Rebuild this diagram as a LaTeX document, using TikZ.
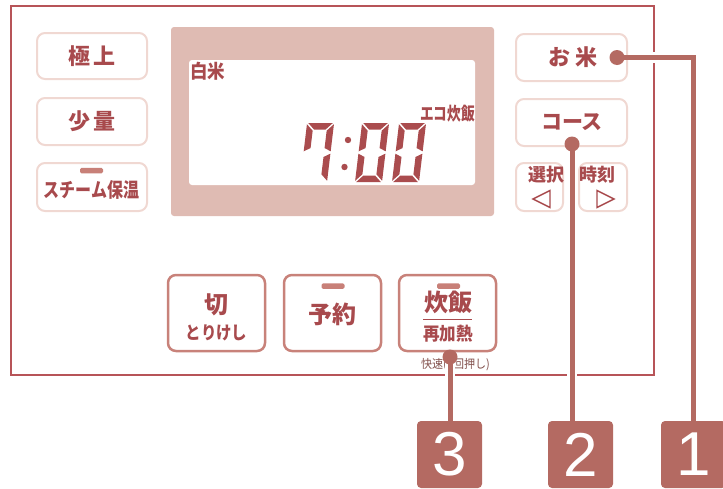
\documentclass[tikz,border=0pt]{standalone}
\usepackage{fontspec}
\usepackage{graphicx}
\setmainfont{Noto Sans CJK JP}
\newfontfamily\numfont{Liberation Sans}
\definecolor{panelc}{RGB}{183,84,88}
\definecolor{txtc}{RGB}{168,74,77}
\definecolor{lbord}{RGB}{240,216,210}
\definecolor{bbord}{RGB}{200,130,122}
\definecolor{indc}{RGB}{200,128,120}
\definecolor{dispc}{RGB}{223,187,179}
\definecolor{segc}{RGB}{170,76,78}
\definecolor{leadc}{RGB}{180,106,98}
\definecolor{smallc}{RGB}{130,80,76}
\newcommand{\fs}[1]{\fontsize{#1}{#1}\selectfont}
\newcommand{\sgA}{\fill[segc] (1.2,-59) -- (25.8,-59) -- (19.3,-52.5) -- (7.7,-52.5) -- cycle;}
\newcommand{\sgD}{\fill[segc] (1.2,0) -- (25.8,0) -- (19.3,-6.5) -- (7.7,-6.5) -- cycle;}
\newcommand{\sgF}{\fill[segc] (0,-57.8) -- (6.5,-51.3) -- (6.5,-33.95) -- (0,-30.7) -- cycle;}
\newcommand{\sgE}{\fill[segc] (0,-1.2) -- (6.5,-7.7) -- (6.5,-25.05) -- (0,-28.3) -- cycle;}
\newcommand{\sgB}{\fill[segc] (27,-57.8) -- (20.5,-51.3) -- (20.5,-33.95) -- (27,-30.7) -- cycle;}
\newcommand{\sgC}{\fill[segc] (27,-1.2) -- (20.5,-7.7) -- (20.5,-25.05) -- (27,-28.3) -- cycle;}
\tikzset{
  lbtn/.style={draw=lbord, line width=2pt, rounded corners=8pt, fill=white, inner sep=0pt},
  bbtn/.style={draw=bbord, line width=2.5pt, rounded corners=8pt, inner sep=0pt, minimum width=97pt, minimum height=76pt},
  lbl/.style={text=txtc, inner sep=0pt, font=\bfseries\fs{22}},
  ind/.style={fill=indc, rounded corners=1.5pt, inner sep=0pt, minimum width=23pt, minimum height=5.5pt},
  lead/.style={draw=leadc, line width=5pt},
  halo/.style={draw=white, line width=10.5pt},
  numbox/.style={fill=leadc, rounded corners=4pt, minimum width=65pt, minimum height=67pt, inner sep=0pt, text=white, font=\numfont\fs{62}},
  tri/.style={draw=txtc, line width=1.4pt, line join=miter}
}
\begin{document}
\begin{tikzpicture}[x=1pt,y=-1pt]
\useasboundingbox (0,0) rectangle (723,488);
% panel
\draw[panelc, line width=2.4pt] (11,6) rectangle (654,375);
% display
\fill[dispc, rounded corners=3pt] (171,27) rectangle (494,216);
\fill[white, rounded corners=3pt] (189,60) rectangle (475,185);
\node[text=txtc, inner sep=0pt, font=\bfseries\fs{19}] (hakumai) at (207.5,71) {\scalebox{0.92}[1]{白米}};
\node[text=txtc, inner sep=0pt, font=\bfseries\fs{18}] (eco) at (447.5,113.5) {\scalebox{0.76}[1]{エコ炊飯}};
% seven segment 7:00
\begin{scope}[shift={(300,182)}, xslant=0.12]
  \sgA \sgB \sgC \sgF
\end{scope}
\begin{scope}[shift={(355,182)}, xslant=0.12]
  \sgA \sgB \sgC \sgD \sgE \sgF
\end{scope}
\begin{scope}[shift={(392,182)}, xslant=0.12]
  \sgA \sgB \sgC \sgD \sgE \sgF
\end{scope}
\fill[segc] (348,140) circle (3.2);
\fill[segc] (344.5,167) circle (3.2);
% left buttons
\node[lbtn, minimum width=110pt, minimum height=46pt] (gokujo) at (92,56) {};
\node[lbl] (gokujot) at (92,56) {極\hspace{3pt}上};
\node[lbtn, minimum width=110pt, minimum height=47pt] (shoryo) at (92,121.5) {};
\node[lbl] (shoryot) at (92,121.5) {少\hspace{3pt}量};
\node[lbtn, minimum width=110pt, minimum height=48pt] (steam) at (92,187) {};
\node[ind] (steamind) at (91.5,170.5) {};
\node[lbl, font=\bfseries\fs{20}] (steamt) at (91.5,189.5) {\scalebox{0.8}[1]{スチーム保温}};
% right buttons
\node[lbtn, minimum width=111pt, minimum height=47pt] (okome) at (571.5,57.5) {};
\node[lbl] (okomet) at (572.5,57) {お\hspace{5pt}米};
\node[lbtn, minimum width=111pt, minimum height=47pt] (course) at (571.5,122.5) {};
\node[lbl, font=\bfseries\fs{21}] (courset) at (572,122) {コース};
\node[lbtn, minimum width=47pt, minimum height=48pt] (sentaku) at (539.5,187) {};
\node[lbl, font=\bfseries\fs{18}] (sentakut) at (546,175) {選択};
\draw[tri] (533,199) -- (550,190.5) -- (550,207.5) -- cycle;
\node[lbtn, minimum width=48pt, minimum height=48pt] (jikoku) at (603,187) {};
\node[lbl, font=\bfseries\fs{18}] (jikokut) at (597.5,175) {時刻};
\draw[tri] (614,199) -- (597,190.5) -- (597,207.5) -- cycle;
% bottom buttons
\node[bbtn] (kiri) at (216.5,313) {};
\node[lbl, font=\bfseries\fs{24}] (kirit) at (216.5,305) {切};
\node[lbl, font=\bfseries\fs{18}] (torikeshi) at (216.5,332.5) {\scalebox{0.86}[1]{とりけし}};
\node[bbtn] (yoyaku) at (332.5,313) {};
\node[ind] (yoyakuind) at (333,286) {};
\node[lbl, font=\bfseries\fs{24}] (yoyakut) at (332.5,314) {予約};
\node[bbtn] (suihan) at (447.5,313) {};
\node[ind] (suihanind) at (448.5,286) {};
\node[lbl, font=\bfseries\fs{24}] (suihant) at (448,302.5) {炊飯};
\draw[txtc, line width=1.6pt] (423,319.5) -- (472,319.5);
\node[lbl, font=\bfseries\fs{18}] (saikanetsu) at (448,333.5) {\scalebox{0.92}[1]{再加熱}};
\node[text=smallc, inner sep=0pt, font=\fs{12}] (kaisoku) at (455.5,365) {\scalebox{0.92}[1]{快速(2回押し)}};
% number boxes
\node[numbox] (n3) at (449.5,454.5) {3};
\node[numbox] (n2) at (580.5,454.5) {2};
\node[numbox] (n1) at (693.5,454.5) {1};
% leader dots
\coordinate (d1) at (617,57.5);
\coordinate (d2) at (572,144);
\coordinate (d3) at (450,357);
% halos
\draw[halo] (640,57.5) -- (670,57.5);
\draw[halo] (d2 |- 0,362) -- (d2 |- 0,390);
\draw[halo] (d3) -- (d3 |- 0,390);
% leaders
\draw[lead] (d1) -| (n1.north);
\draw[lead] (d2) -- (d2 |- n2.north);
\draw[lead] (d3) -- (d3 |- n3.north);
\fill[leadc] (d1) circle (7.5);
\fill[leadc] (d2) circle (7.5);
\fill[leadc] (d3) circle (7.5);
\end{tikzpicture}
\end{document}
